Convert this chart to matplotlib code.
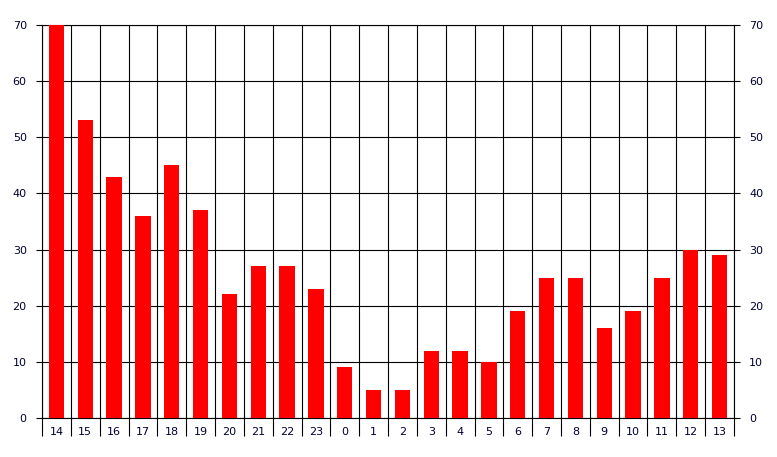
import numpy as np
import matplotlib.pyplot as plt
from matplotlib.ticker import MultipleLocator, FixedLocator

hours = ['14', '15', '16', '17', '18', '19', '20', '21', '22', '23', '0', '1',
         '2', '3', '4', '5', '6', '7', '8', '9', '10', '11', '12', '13']
counts = [70, 53, 43, 36, 45, 37, 22, 27, 27, 23, 9, 5,
          5, 12, 12, 10, 19, 25, 25, 16, 19, 25, 30, 29]

fig = plt.figure(figsize=(7.77, 4.57), dpi=100)
W, H = 777, 457
ax = fig.add_axes([42 / W, (H - 418) / H, (734 - 42) / W, (418 - 25) / H])

x = np.arange(len(hours))
ax.bar(x, counts, width=0.53, color='#ff0000', zorder=3)

ax.set_xlim(-0.5, len(hours) - 0.5)
ax.set_ylim(0, 70)

# vertical lines at category boundaries
for b in np.arange(-0.5, len(hours), 1.0):
    ax.axvline(b, color='black', lw=0.8, zorder=2)
ax.yaxis.set_major_locator(MultipleLocator(10))
ax.grid(axis='y', color='black', lw=0.8, zorder=2)

ax.set_xticks(x)
ax.set_xticklabels(hours)
ax.xaxis.set_minor_locator(FixedLocator(np.arange(-0.5, len(hours), 1.0)))
ax.tick_params(axis='x', which='major', length=0, pad=6.5, labelsize=8, labelcolor='#000033')
ax.tick_params(axis='x', which='minor', length=13, width=0.8, direction='out', color='black')

ax.tick_params(axis='y', which='major', left=True, right=True, labelleft=True, labelright=True,
               length=4, width=0.8, direction='out', pad=7, labelsize=8, labelcolor='#000033')

for s in ax.spines.values():
    s.set_linewidth(0.8)
    s.set_color('black')

fig.savefig('out.png', dpi=100)
